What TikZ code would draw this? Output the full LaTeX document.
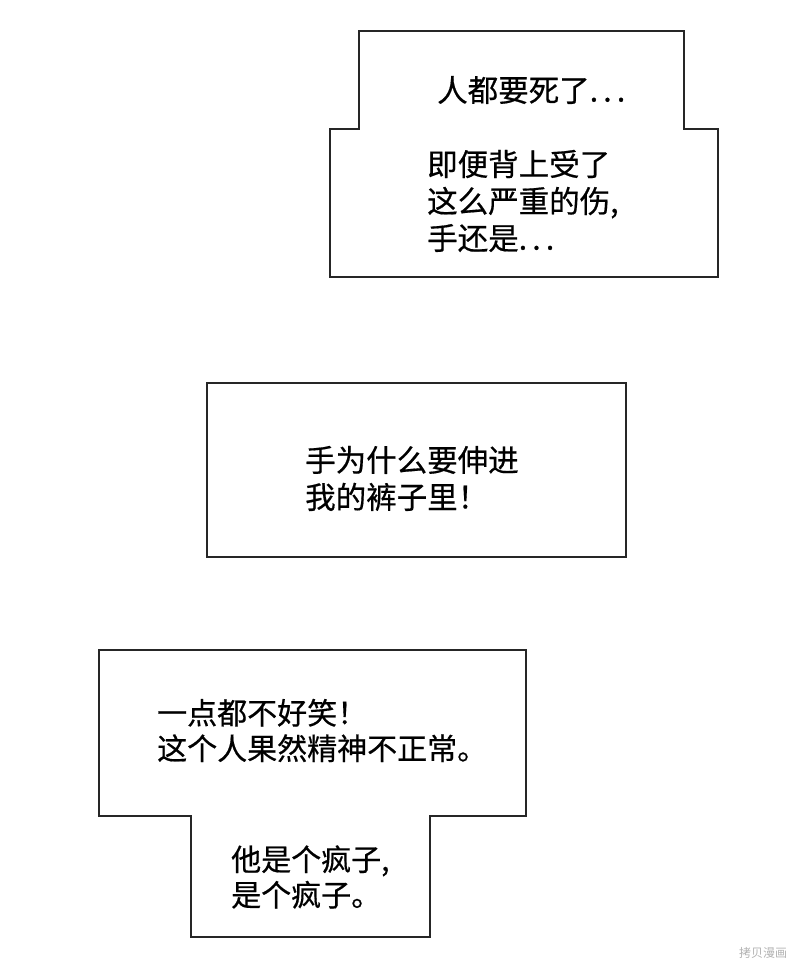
\documentclass[tikz,border=0pt]{standalone}
\usepackage{fontspec}
\newfontfamily\cjk[FakeBold=0.5]{Noto Sans CJK SC}
\newfontfamily\cjkwm{Noto Sans CJK SC}
\begin{document}
\begin{tikzpicture}[x=1pt,y=-1pt,
  box/.style={draw=black!85,line width=1.6pt,fill=white},
  txt/.style={anchor=west,inner sep=0pt,align=left,font=\cjk\fontsize{30.5}{37}\selectfont},
  txtb/.style={anchor=west,inner sep=0pt,align=left,font=\cjk\fontsize{30}{35.5}\selectfont},
  wm/.style={inner sep=0pt,text=black!30,font=\cjkwm\fontsize{12}{12}\selectfont}]
\useasboundingbox (0,0) rectangle (800,971);
% bubble 1
\draw[box] (359,31) -- (684,31) -- (684,129) -- (718,129) -- (718,277)
  -- (330,277) -- (330,129) -- (359,129) -- cycle;
\node[txt] (t1a) at (437,90) {人都要死了.\,.\,.};
\node[txt] (t1b) at (427,201) {即便背上受了\\这么严重的伤,\\手还是.\,.\,.};
% bubble 2
\draw[box] (207,383) rectangle (626,557);
\node[txt] (t2) at (305,478.5) {手为什么要伸进\\我的裤子里！};
% bubble 3
\draw[box] (99,650) -- (526,650) -- (526,816) -- (430,816) -- (430,937)
  -- (191,937) -- (191,816) -- (99,816) -- cycle;
\node[txtb] (t3a) at (157,730.5) {一点都不好笑！\\这个人果然精神不正常。};
\node[txtb] (t3b) at (231,877) {他是个疯子,\\是个疯子。};
% watermark
\node[wm] (wm) at (763,953) {拷贝漫画};
\end{tikzpicture}
\end{document}
